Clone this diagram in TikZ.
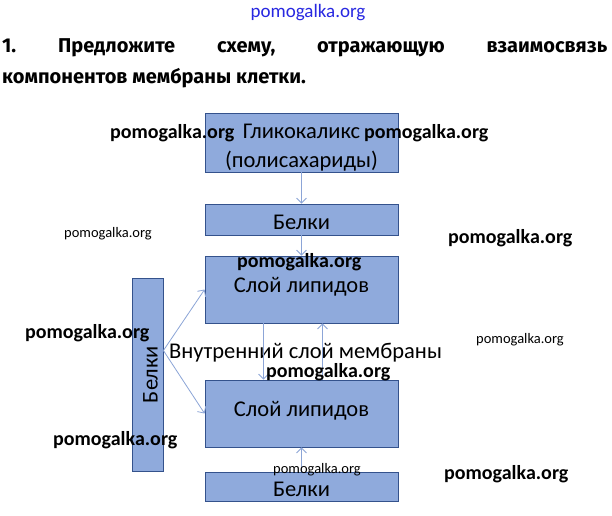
\documentclass[tikz,border=0pt]{standalone}
\usepackage{fontspec}
\setmainfont{Carlito}
\newfontfamily\titlefont{Fira Sans}
\usetikzlibrary{arrows.meta}
\definecolor{boxfill}{RGB}{143,170,220}
\definecolor{boxline}{RGB}{52,82,140}
\definecolor{linkcol}{RGB}{140,165,215}
\definecolor{wmblue}{RGB}{40,40,225}
\begin{document}
\begin{tikzpicture}[x=1pt,y=-1pt,
    box/.style={draw=boxline,fill=boxfill,line width=0.8pt,minimum width=193pt,
      inner sep=0pt,font=\fontsize{22.5}{29}\selectfont},
    belkibox/.style={box,minimum height=31pt,text height=20pt,text depth=0pt},
    lipbox/.style={box,minimum height=67pt,text height=15pt,text depth=10pt},
    link/.style={draw=linkcol,line width=0.8pt,-{Straight Barb[length=5pt,width=10pt]}},
    wmbig/.style={anchor=base west,inner sep=0pt,font=\bfseries\fontsize{20}{20}\selectfont},
    wmsmall/.style={anchor=base west,inner sep=0pt,font=\fontsize{14.5}{14.5}\selectfont}]
  \fill[white] (0,0) rectangle (612,515);
  \useasboundingbox (0,0) rectangle (612,515);
  % heading
  \node[anchor=base,inner sep=0pt,text=wmblue,font=\fontsize{19}{19}\selectfont] (wmtop) at (308,17) {pomogalka.org};
  \node[anchor=base west,inner sep=0pt,font=\titlefont\bfseries\fontsize{20}{24}\selectfont] (title1) at (2,52)
    {\makebox[605pt][s]{1.\hfill Предложите\hfill схему,\hfill отражающую\hfill взаимосвязь}};
  \node[anchor=base west,inner sep=0pt,font=\titlefont\bfseries\fontsize{20}{24}\selectfont] (title2) at (2,83)
    {компонентов мембраны клетки.};
  % boxes
  \node[box,minimum height=59pt,align=center] (glyco) at (301.5,142.5)
    {\rule{0pt}{25pt}Гликокаликс\\(полисахариды)};
  \node[belkibox] (belki1) at (301.5,219.5) {Белки};
  \node[lipbox] (lip1) at (301.5,289.5) {Слой липидов};
  \node[lipbox] (lip2) at (301.5,413.5) {Слой липидов};
  \node[belkibox,minimum height=29pt] (belki3) at (301.5,486.5) {Белки};
  \node[belkibox,rotate=90] (belkiv) at (147.5,374.5) {Белки};
  \node[anchor=base,inner sep=0pt,font=\fontsize{22.5}{29}\selectfont] (inner) at (305.5,358)
    {Внутренний слой мембраны};
  % links
  \draw[link] (glyco.south) -- (belki1.north);
  \draw[link] (belki1.south) -- (lip1.north);
  \draw[link] ([xshift=-38pt]lip1.south) -- ([xshift=-38pt]lip2.north);
  \draw[link] ([xshift=21pt]lip2.north) -- ([xshift=21pt]lip1.south);
  \draw[link] (belki3.north) -- (lip2.south);
  \draw[link] ([yshift=24pt]belkiv.south) -- (lip1.west);
  \draw[link] ([yshift=24pt]belkiv.south) -- (lip2.west);
  % watermarks
  \node[wmbig] (wm1) at (110,138) {pomogalka.org};
  \node[wmbig] (wm2) at (364,138) {pomogalka.org};
  \node[wmsmall] (wm3) at (64,237) {pomogalka.org};
  \node[wmbig] (wm4) at (448,243) {pomogalka.org};
  \node[wmbig] (wm5) at (237,267) {pomogalka.org};
  \node[wmbig] (wm6) at (25,338) {pomogalka.org};
  \node[wmsmall] (wm7) at (476,343) {pomogalka.org};
  \node[wmbig] (wm8) at (266,377) {pomogalka.org};
  \node[wmbig] (wm9) at (53,445) {pomogalka.org};
  \node[wmsmall] (wm10) at (273,473) {pomogalka.org};
  \node[wmbig] (wm11) at (444,479) {pomogalka.org};
\end{tikzpicture}
\end{document}
